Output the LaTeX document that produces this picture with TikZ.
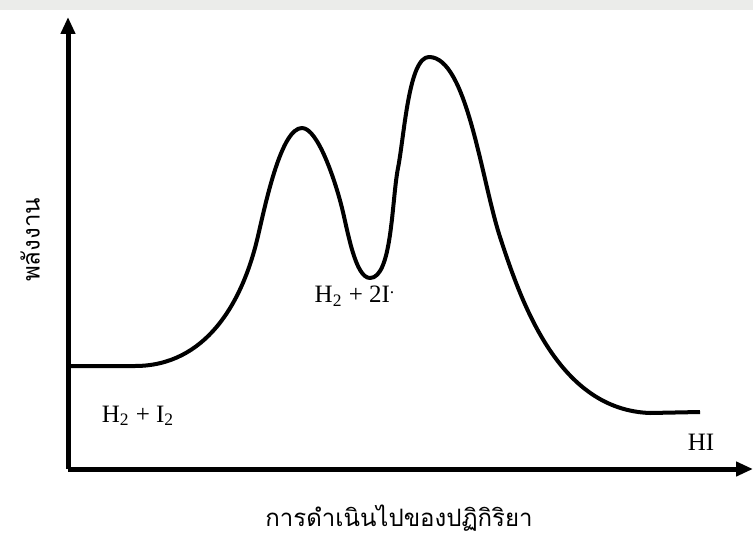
\documentclass[tikz,border=0pt]{standalone}
\usepackage{fontspec}
\setmainfont{Liberation Serif}
\newfontfamily\thaifont[Script=Thai]{Loma}
\usetikzlibrary{arrows.meta}
\definecolor{bandgray}{RGB}{235,236,234}
\tikzset{
  axis/.style={line width=2.5pt, -{Triangle[length=8.5pt,width=7pt]}},
  curve/.style={line width=2pt, line join=round},
  chem/.style={font=\fontsize{12.5}{14}\selectfont, inner sep=0pt},
  thai/.style={font=\thaifont\fontsize{12}{14}\selectfont, inner sep=0pt}
}

\begin{document}
\begin{tikzpicture}[x=0.5pt, y=-0.5pt]
  \useasboundingbox (0,0) rectangle (753,534);
  \fill[bandgray] (0,0) rectangle (753,10);

  % axes
  \coordinate (origin) at (68,469);
  \coordinate (ytip) at (68,17);
  \coordinate (xtip) at (753,469);
  \draw[axis] (origin) -- (ytip);
  \draw[axis] (origin) -- (xtip);

  % energy profile
  \coordinate (start) at (70,366);
  \coordinate (flat) at (135,366);
  \coordinate (peakone) at (302,128);
  \coordinate (dip) at (370,278);
  \coordinate (peaktwo) at (429,57);
  \coordinate (finish) at (700,412);
  \draw[curve] (start) -- (flat)
    to[out=0, in=-103] (258,236)
    to[out=77, in=180, out looseness=0.8, in looseness=0.45] (peakone)
    to[out=0, in=104, out looseness=0.45, in looseness=0.8] (342,208)
    to[out=-76, in=180, out looseness=0.8, in looseness=0.5] (dip)
    to[out=0, in=-101, out looseness=0.5, in looseness=0.75] (398,168)
    to[out=79, in=180, out looseness=0.75, in looseness=0.45] (peaktwo)
    to[out=0, in=108, out looseness=0.5, in looseness=0.8] (500,237)
    to[out=-72, in=178, out looseness=0.8] (650,413)
    -- (finish);

  % labels
  \node[chem] (reactant) at (138,416) {H\textsubscript{2} + I\textsubscript{2}};
  \node[chem] (inter) at (355,296) {H\textsubscript{2} + 2I\textsuperscript{.}};
  \node[chem] (product) at (701,442) {HI};
  \node[thai] (xlabel) at (399,518) {การดำเนินไปของปฏิกิริยา};
  \node[thai, rotate=90] (ylabel) at (30,240) {พลังงาน};
\end{tikzpicture}
\end{document}
